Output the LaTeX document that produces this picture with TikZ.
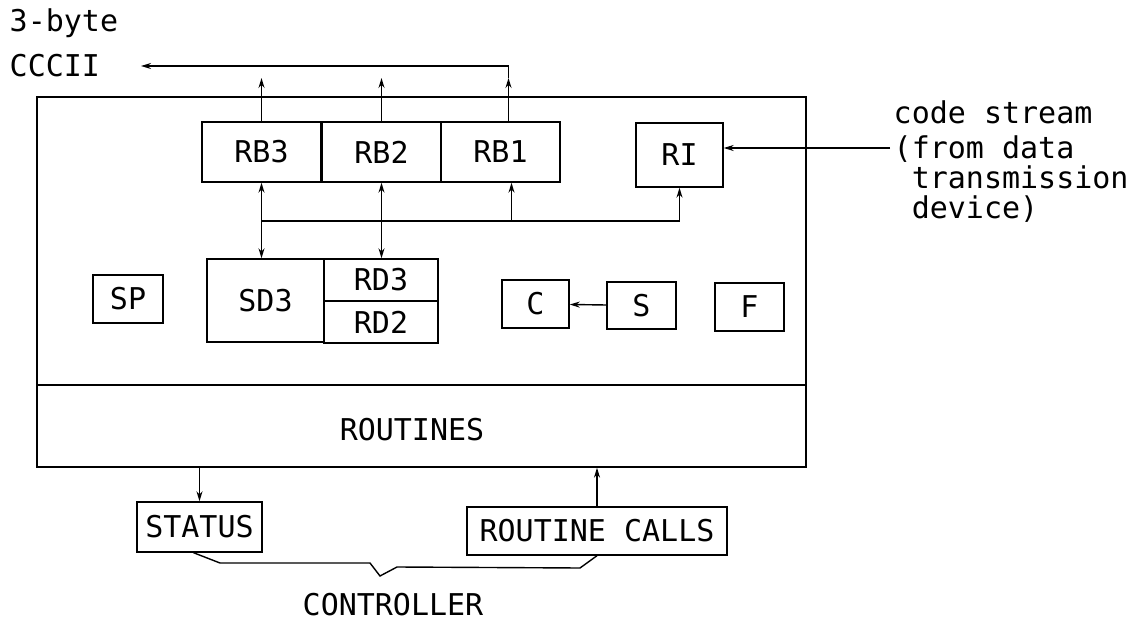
\documentclass[tikz,border=0pt]{standalone}
\usepackage{fontspec}
\setmonofont{DejaVu Sans Mono}
\usetikzlibrary{arrows.meta}

\begin{document}
\begin{tikzpicture}[x=0.5pt, y=-0.5pt, line width=0.7pt,
    >={Stealth[length=5pt,width=3pt]},
    every node/.style={font=\ttfamily\fontsize{15}{15}\selectfont},
    blk/.style={draw, inner sep=0pt}]
    \useasboundingbox (0,0) rectangle (1144,624);

    % Outer unit with the routines strip
    \node[draw, inner sep=0pt, minimum width=384.5pt, minimum height=185pt] (unit) at (421.5,282) {};
    \coordinate (split) at (0,385);
    \draw (unit.west |- split) -- (unit.east |- split);
    \node (rout) at (412,430) {ROUTINES};

    % Receive buffers and input register
    \foreach \n/\x in {3/261.5, 2/381.5, 1/500.5}
        \node[blk, minimum width=59.5pt, minimum height=30pt] (RB\n) at (\x,152) {RB\n};
    \node[blk, minimum width=43.5pt, minimum height=32pt] (RI) at (679.5,155) {RI};

    % Decoding registers
    \node[blk, minimum width=58.5pt, minimum height=41.5pt] (SD3) at (265.5,300.5) {SD3};
    \node[blk, minimum width=57pt, minimum height=21pt] (RD3) at (381,280) {RD3};
    \node[blk, minimum width=57pt, minimum height=21pt] (RD2) at (381,322) {RD2};
    \node[blk, minimum width=35pt, minimum height=24pt] (SP) at (128,299) {SP};
    \node[blk, minimum width=33.5pt, minimum height=24pt] (C) at (535.5,304) {C};
    \node[blk, minimum width=34.5pt, minimum height=23.5pt] (S) at (641.5,305.5) {S};
    \node[blk, minimum width=34.5pt, minimum height=24pt] (F) at (749.5,307) {F};

    % Controller side
    \node[blk, minimum width=62.5pt, minimum height=25pt] (STATUS) at (199.5,527) {STATUS};
    \node[blk, minimum width=130pt, minimum height=24pt] (RC) at (597,531) {ROUTINE CALLS};
    \node (ctrl) at (393,605) {CONTROLLER};

    % Outside labels
    \node[anchor=west, align=left, inner sep=0pt] (ccc) at (9,43) {3-byte\\[7.5pt]CCCII};
    \node[anchor=north west, align=left, inner sep=0pt] (code) at (893,100)
        {code stream\\[2.5pt](from data\\\phantom{(}transmission\\\phantom{(}device)};
    \coordinate (cccii) at (141,66);
    \coordinate (src) at (890,148);

    % Output to the CCCII line
    \coordinate (upY) at (0,78);
    \coordinate (rb1o) at ([xshift=4pt]RB1.north);
    \draw[->] (RB3.north) -- (RB3.north |- upY);
    \draw[->] (RB2.north) -- (RB2.north |- upY);
    \draw[->] (rb1o) -- (rb1o |- upY);
    \draw[->] (rb1o |- upY) -- (rb1o |- cccii) -- (cccii);

    % Code stream in
    \draw[->] (src) -- (RI.east |- src);

    % Internal bus
    \coordinate (bus) at (0,221);
    \coordinate (rb1i) at ([xshift=5.5pt]RB1.south);
    \draw (RB3.south |- bus) -- (RI.south |- bus);
    \draw[->] (RI.south |- bus) -- (RI.south);
    \draw[->] (rb1i |- bus) -- (rb1i);
    \draw[<->] (RB3.south) -- (RB3.south |- SD3.north);
    \draw[<->] (RB2.south) -- (RB2.south |- RD3.north);
    \draw[->] (S) -- (C);

    % Routine interface
    \draw[->] (unit.south -| STATUS) -- (STATUS.north);
    \draw[->] (RC.north) -- (RC.north |- unit.south);

    % Brace to the controller
    \coordinate (tip) at (380,576);
    \draw ([xshift=-3pt]STATUS.south) -- (220,563) -- (370,563) -- (tip)
        -- (397,567) -- (580,568) -- (RC.south);
\end{tikzpicture}
\end{document}
